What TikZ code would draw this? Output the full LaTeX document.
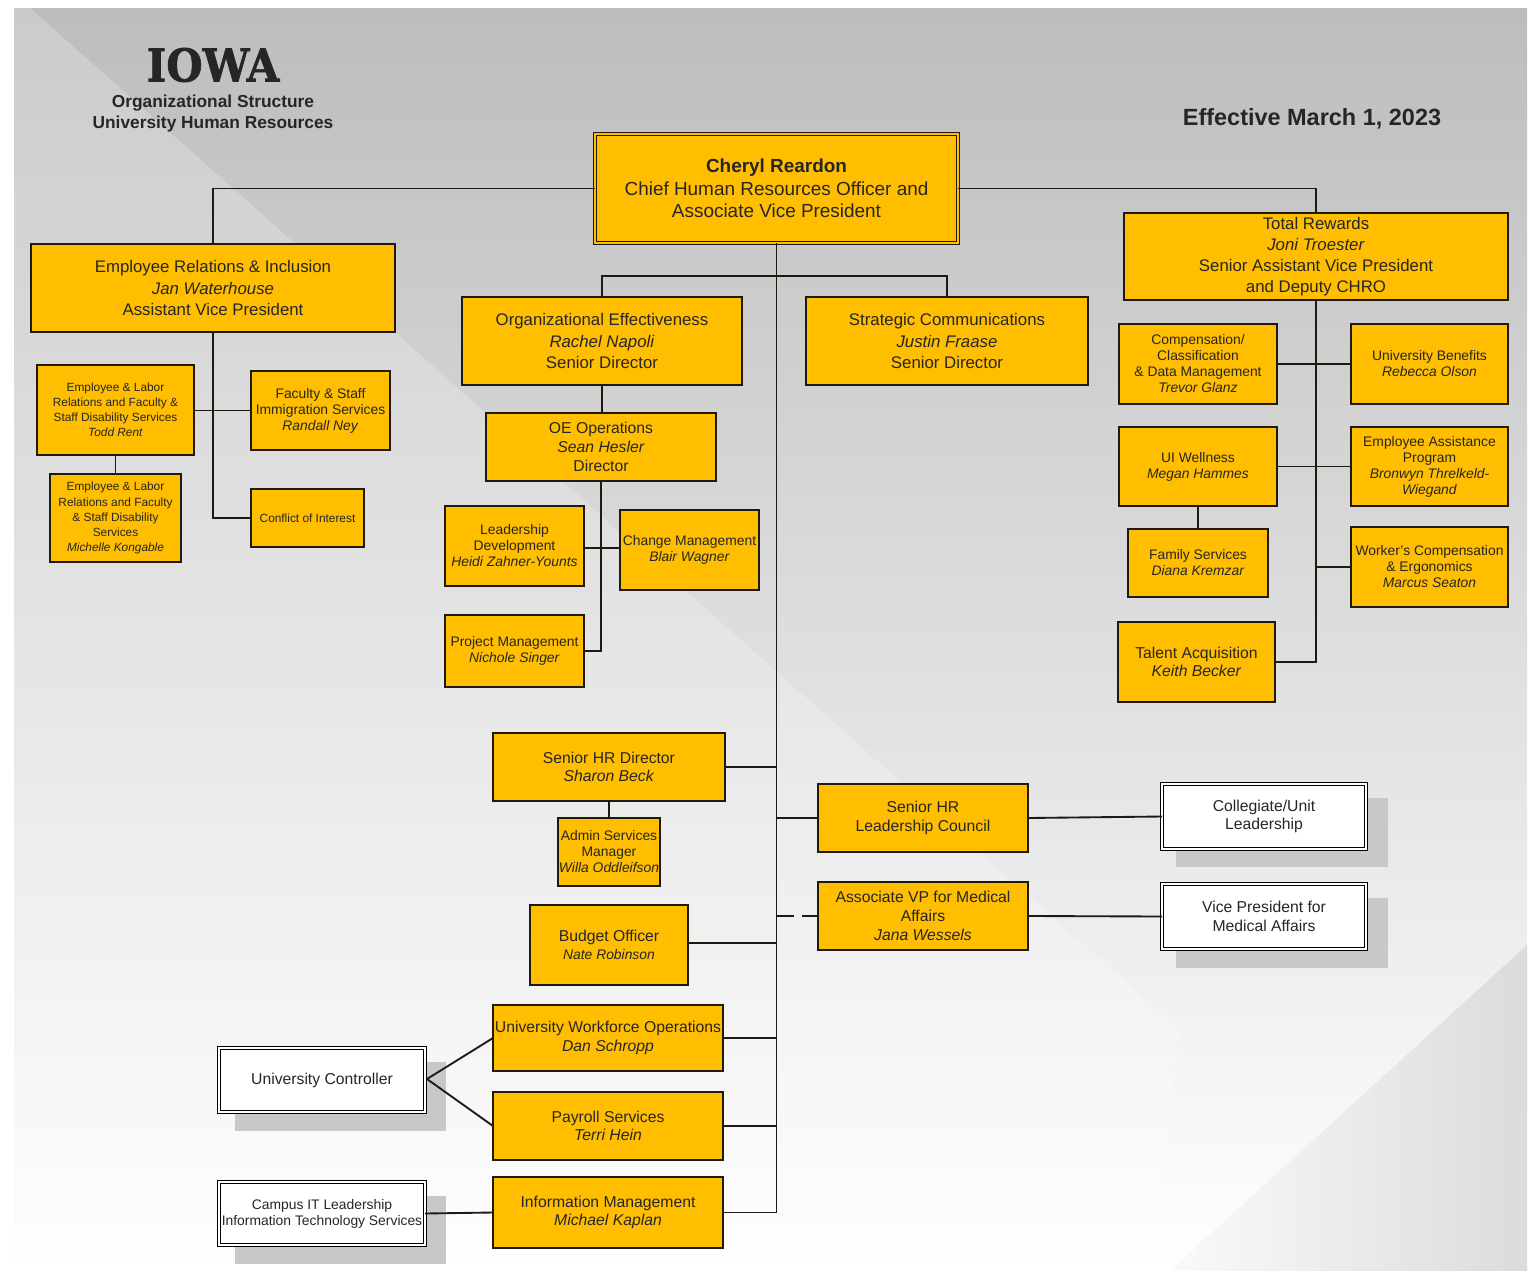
\documentclass[tikz,border=0pt]{standalone}
\usepackage{fontspec}
\setmainfont{Liberation Sans}
\newfontfamily\iowafont[FakeBold=1.5]{DejaVu Serif}
\definecolor{ink}{HTML}{262626}
\definecolor{gold}{HTML}{FFBE00}
\definecolor{edge}{HTML}{1E1A10}
\definecolor{shadowgrey}{HTML}{C8C8C8}
\newcommand{\bx}[7]{%
 \pgfmathsetmacro\bxcx{(#3+#5)/2}\pgfmathsetmacro\bxcy{(#4+#6)/2}%
 \pgfmathsetmacro\bxw{(#5-#3)*0.75}\pgfmathsetmacro\bxh{(#6-#4)*0.75}%
 \node[#1,minimum width=\bxw pt,minimum height=\bxh pt] (#2) at (\bxcx,\bxcy) {#7};}
\newcommand{\fz}[2]{\fontsize{#1}{#2}\selectfont}
\tikzset{
 box/.style={draw=edge,fill=gold,line width=1.3pt,inner sep=0pt,outer sep=0pt,align=center,text=ink},
 dbox/.style={box,double=gold,double distance=1.8pt,line width=.9pt},
 wbox/.style={box,double=white,draw=black,fill=white,double distance=1.8pt,line width=.9pt},
 f19/.style={font=\fz{14.2}{17}},
 f17/.style={font=\fz{12.6}{15.8}},
 f16/.style={font=\fz{11.8}{14}},
 f14/.style={font=\fz{10.4}{12}},
 f12/.style={font=\fz{8.9}{11.3}},
 conn/.style={draw=edge,line width=1.4pt},
 plain/.style={text=ink,inner sep=0pt,align=center},
}
\begin{document}
\begin{tikzpicture}[x=0.75pt,y=-0.75pt]
\useasboundingbox (0,0) rectangle (1529,1271);
% background
\shade[top color=black!26,bottom color=white,shading angle=0] (14,8) rectangle (1527,1271);
\fill[white,opacity=.22] (14,8) -- (30,8) -- (1180,1030) -- (1150,1271) -- (14,1271) -- cycle;
\shade[left color=black!2,right color=black!14] (1527,945) -- (1527,1271) -- (1170,1271) -- cycle;
% shadows
\fill[shadowgrey] (1176,798) rectangle (1388,867);
\fill[shadowgrey] (1176,898) rectangle (1388,968);
\fill[shadowgrey] (235,1062) rectangle (446,1131);
\fill[shadowgrey] (235,1196) rectangle (446,1264);
% heading
\node[plain,font=\iowafont\bfseries\fz{34}{34}] (iowa) at (213,65) {\scalebox{.92}[1]{IOWA}};
\node[plain,font=\bfseries\fz{13}{15.2}] (heading) at (213,113.5) {Organizational Structure\\University Human Resources};
\node[plain,font=\bfseries\fz{17.6}{20}] (eff) at (1312,119) {Effective March 1, 2023};
% boxes
\bx{dbox,f19}{main}{595}{134}{958}{243}{\textbf{Cheryl Reardon}\\Chief Human Resources Officer and\\Associate Vice President}
\bx{box,f17}{er}{31}{244}{395}{332}{Employee Relations \& Inclusion\\\textit{Jan Waterhouse}\\Assistant Vice President}
\bx{box,f17}{tr}{1124}{213}{1508}{300}{Total Rewards\\\textit{Joni Troester}\\Senior Assistant Vice President\\and Deputy CHRO}
\bx{box,f17}{oe}{462}{297}{742}{385}{Organizational Effectiveness\\\textit{Rachel Napoli}\\Senior Director}
\bx{box,f17}{sc}{806}{297}{1088}{385}{Strategic Communications\\\textit{Justin Fraase}\\Senior Director}
\bx{box,f16}{ops}{486}{413}{716}{481}{OE Operations\\\textit{Sean Hesler}\\Director}
\bx{box,f14}{ld}{445}{506}{584}{586}{Leadership\\Development\\\textit{Heidi Zahner-Younts}}
\bx{box,f14}{cm}{620}{510}{759}{590}{Change Management\\\textit{Blair Wagner}}
\bx{box,f14}{pm}{445}{615}{584}{687}{Project Management\\\textit{Nichole Singer}}
\bx{box,f12}{el}{37}{365}{194}{455}{Employee \& Labor\\Relations and Faculty \&\\Staff Disability Services\\\textit{Todd Rent}}
\bx{box,f14}{fac}{251}{371}{390}{450}{Faculty \& Staff\\Immigration Services\\\textit{Randall Ney}}
\bx{box,f12}{elb}{50}{474}{181}{562}{Employee \& Labor\\Relations and Faculty\\\& Staff Disability\\Services\\\textit{Michelle Kongable}}
\bx{box,f12}{coi}{251}{489}{364}{547}{Conflict of Interest}
\bx{box,f14}{comp}{1119}{324}{1277}{404}{Compensation/\\Classification\\\& Data Management\\\textit{Trevor Glanz}}
\bx{box,f14}{ben}{1351}{324}{1508}{404}{University Benefits\\\textit{Rebecca Olson}}
\bx{box,f14}{well}{1119}{427}{1277}{506}{UI Wellness\\\textit{Megan Hammes}}
\bx{box,f14}{eap}{1351}{427}{1508}{506}{Employee Assistance\\Program\\\textit{Bronwyn Threlkeld-}\\\textit{Wiegand}}
\bx{box,f14}{fam}{1128}{529}{1268}{597}{Family Services\\\textit{Diana Kremzar}}
\bx{box,f14}{wc}{1351}{527}{1508}{607}{Worker's Compensation\\\& Ergonomics\\\textit{Marcus Seaton}}
\bx{box,f16}{tal}{1118}{622}{1275}{702}{Talent Acquisition\\\textit{Keith Becker}}
\bx{box,f16}{shr}{493}{733}{725}{801}{Senior HR Director\\\textit{Sharon Beck}}
\bx{box,f14}{adm}{558}{818}{660}{886}{Admin Services\\Manager\\\textit{Willa Oddleifson}}
\bx{box,f16}{bud}{530}{905}{688}{985}{Budget Officer\\{\fz{10.4}{14}\textit{Nate Robinson}}}
\bx{box,f16}{lc}{818}{784}{1028}{852}{Senior HR\\Leadership Council}
\bx{box,f16}{avp}{818}{882}{1028}{950}{Associate VP for Medical\\Affairs\\\textit{Jana Wessels}}
\bx{wbox,f16}{col}{1162}{784}{1366}{849}{\fz{11.8}{14}Collegiate/Unit\\Leadership}
\bx{wbox,f16}{vpm}{1162}{884}{1366}{949}{Vice President for\\Medical Affairs}
\bx{box,f16}{uwo}{493}{1005}{723}{1071}{University Workforce Operations\\\textit{Dan Schropp}}
\bx{box,f16}{pay}{493}{1092}{723}{1160}{Payroll Services\\\textit{Terri Hein}}
\bx{box,f16}{im}{493}{1177}{723}{1248}{Information Management\\\textit{Michael Kaplan}}
\bx{wbox,f16}{ctl}{219}{1048}{425}{1112}{University Controller}
\bx{wbox,f14}{its}{219}{1182}{425}{1245}{Campus IT Leadership\\Information Technology Services}
% helper coordinates
\coordinate (bus) at (776,276);
\coordinate (ctlpt) at (427,1079);
% connectors
\draw[conn] (main.west) -| (er.north);
\draw[conn] (main.east) -| (tr.north);
\draw[conn] (main.south) |- (im.east);
\draw[conn] (oe.north) |- (bus) -| (sc.north);
\draw[conn] (oe.south) -- (oe.south |- ops.north);
\draw[conn] (ops.south) |- (pm.east);
\draw[conn] (ld.east |- 0,548) -- (cm.west |- 0,548);
\draw[conn] (er.south) |- (coi.west);
\draw[conn] (el.east |- fac.west) -- (fac.west);
\draw[conn] (el.south) -- (el.south |- elb.north);
\draw[conn] (tr.south) |- (tal.east);
\draw[conn] (comp.east) -- (ben.west);
\draw[conn] (well.east) -- (eap.west);
\draw[conn] (tr.south |- wc.west) -- (wc.west);
\draw[conn] (well.south) -- (well.south |- fam.north);
\draw[conn] (shr.east) -- (main.south |- shr.east);
\draw[conn] (shr.south) -- (shr.south |- adm.north);
\draw[conn] (main.south |- lc.west) -- (lc.west);
\draw[conn] (lc.east) -- (col.west);
\draw[conn,dashed,dash pattern=on 13pt off 6pt] (main.south |- avp.west) -- (avp.west);
\draw[conn] (avp.east) -- (vpm.west);
\draw[conn] (bud.east |- 0,943) -- (main.south |- 0,943);
\draw[conn] (uwo.east) -- (main.south |- uwo.east);
\draw[conn] (pay.east) -- (main.south |- pay.east);
\draw[conn] (ctlpt) -- (uwo.west);
\draw[conn] (ctlpt) -- (pay.west);
\draw[conn] (its.east) -- (im.west);
\end{tikzpicture}
\end{document}
